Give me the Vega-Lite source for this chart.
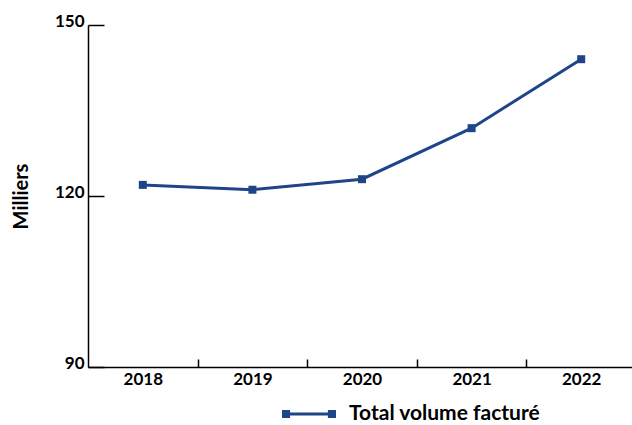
{
  "$schema": "https://vega.github.io/schema/vega-lite/v6.json",
  "width": 548,
  "height": 342,
  "autosize": {"type": "none"},
  "padding": {"left": 88, "top": 25, "right": 0, "bottom": 58},
  "config": {
    "font": "Lato",
    "view": {"stroke": null},
    "axis": {"domainColor": "#000000", "tickColor": "#000000", "labelColor": "#000000", "titleColor": "#000000", "grid": false, "labelFont": "Lato", "labelFontWeight": "bold", "labelFontSize": 17}
  },
  "data": {
    "values": [
      {"year": "2018", "value": 121.95, "series": "Total volume facturé"},
      {"year": "2019", "value": 121.1, "series": "Total volume facturé"},
      {"year": "2020", "value": 122.95, "series": "Total volume facturé"},
      {"year": "2021", "value": 131.9, "series": "Total volume facturé"},
      {"year": "2022", "value": 144.0, "series": "Total volume facturé"}
    ]
  },
  "mark": {"type": "line", "strokeWidth": 3, "point": {"shape": "square", "size": 64, "filled": true, "opacity": 1}},
  "encoding": {
    "x": {
      "field": "year",
      "type": "ordinal",
      "scale": {"type": "point", "padding": 0.5},
      "axis": {"title": null, "labelAngle": 0, "tickSize": -8, "tickWidth": 1.5, "tickOffset": 54.8, "labelOffset": -54.8, "labelPadding": 12, "domainWidth": 1.5}
    },
    "y": {
      "field": "value",
      "type": "quantitative",
      "scale": {"domain": [90, 150], "nice": false, "zero": false},
      "axis": {"values": [90, 120, 150], "title": "Milliers", "titleFontSize": 20, "titleFontWeight": "bold", "titlePadding": 23, "tickSize": -16, "tickWidth": 1.5, "labelPadding": 20, "labelBaseline": "alphabetic", "labelOffset": 1.5, "domainWidth": 1.5}
    },
    "color": {
      "field": "series",
      "type": "nominal",
      "scale": {"range": ["#1e4588"]},
      "legend": {
        "title": null,
        "orient": "none",
        "legendX": 194,
        "legendY": 362,
        "symbolType": "M-1,-0.055H1V0.055H-1Z M-1,-0.15H-0.7V0.15H-1Z M0.7,-0.15H1V0.15H0.7Z",
        "symbolSize": 2916,
        "symbolStrokeWidth": 0,
        "symbolFillColor": "#1e4588",
        "symbolOpacity": 1,
        "labelFontSize": 21,
        "labelFontWeight": "bold",
        "labelColor": "#000000",
        "labelOffset": 13,
        "labelLimit": 400
      }
    }
  }
}
